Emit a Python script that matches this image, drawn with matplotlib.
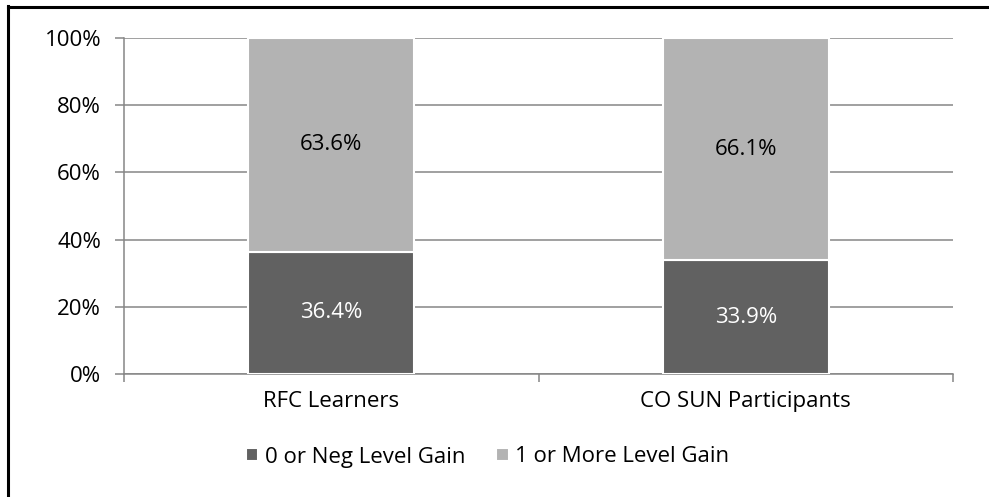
#Stacked percentage bars: level gain of RFC learners vs CO SUN participants

import numpy as np
import matplotlib
matplotlib.use("Agg")
import matplotlib.pyplot as plt
from matplotlib.lines import Line2D
from matplotlib.ticker import PercentFormatter

#data
groups = ["RFC Learners", "CO SUN Participants"]
no_gain = [36.4, 33.9]
some_gain = [63.6, 66.1]
series_names = ["0 or Neg Level Gain", "1 or More Level Gain"]

dark = "#616161"
light = "#b3b3b3"
grid_col = "#868686"
fs = 16

plt.rcParams["font.family"] = ["Open Sans", "DejaVu Sans"]

fig = plt.figure(figsize=(9.89, 4.97), dpi=100)
ax = fig.add_axes([0.1254, 0.2475, 0.8382, 0.676])

x = np.arange(len(groups))
w = 0.4
b1 = ax.bar(x, no_gain, w, color=dark, edgecolor="white", linewidth=1.5, zorder=3)
b2 = ax.bar(x, some_gain, w, bottom=no_gain, color=light, edgecolor="white", linewidth=1.5, zorder=3)

# value labels centered in each segment
for i in range(len(groups)):
    ax.text(x[i], no_gain[i] / 2, "%.1f%%" % no_gain[i], ha="center", va="center",
            color="white", fontsize=fs, zorder=4)
    ax.text(x[i], no_gain[i] + some_gain[i] / 2, "%.1f%%" % some_gain[i], ha="center",
            va="center", color="black", fontsize=fs, zorder=4)

ax.set_xlim(-0.5, len(groups) - 0.5)
ax.set_ylim(0, 100)
ax.set_yticks(np.arange(0, 101, 20))
ax.yaxis.set_major_formatter(PercentFormatter(decimals=0))
ax.grid(axis="y", color=grid_col, linewidth=1.1, zorder=0)

# category ticks sit between the groups, labels under the bars
ax.set_xticks(np.arange(-0.5, len(groups), 1.0))
ax.set_xticklabels([])
ax.set_xticks(x, minor=True)
ax.set_xticklabels(groups, minor=True, fontsize=fs)
ax.tick_params(axis="x", which="minor", length=0, pad=12)
ax.tick_params(axis="x", which="major", length=6, width=1.1, color=grid_col)
ax.tick_params(axis="y", length=6.5, width=1.1, color=grid_col, labelsize=fs, pad=10)

for s in ["top", "right"]:
    ax.spines[s].set_visible(False)
for s in ["left", "bottom"]:
    ax.spines[s].set_color(grid_col)
    ax.spines[s].set_linewidth(1.1)

fig.legend([b1, b2], series_names, loc="center", bbox_to_anchor=(0.493, 1 - 457 / 497),
           ncol=2, frameon=False, fontsize=fs, handlelength=0.55, handleheight=0.55,
           handletextpad=0.3, columnspacing=1.4)

# black frame lines on the top and left edges
fig.add_artist(Line2D([0.0081, 0.0081], [0, 1 - 6 / 497], color="black", linewidth=2.2))
fig.add_artist(Line2D([0.0081, 1], [1 - 7 / 497, 1 - 7 / 497], color="black", linewidth=2.2))

fig.savefig("out.png", dpi=100)
